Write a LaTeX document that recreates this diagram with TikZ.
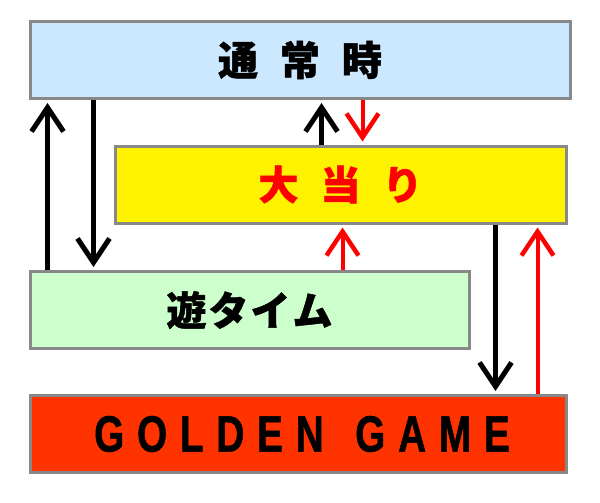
\documentclass[tikz,border=0pt]{standalone}
\usepackage{fontspec}
\usetikzlibrary{arrows.meta}
\newfontfamily\jp{Noto Sans CJK JP}[BoldFeatures={FakeBold=1.2}]
\newfontfamily\goldfont{Liberation Sans}[FakeStretch=0.76,LetterSpace=25,FakeBold=1]
\definecolor{tsblue}{HTML}{CCE8FF}
\definecolor{yugreen}{HTML}{CCFFCC}
\definecolor{ggred}{HTML}{FF3300}
\definecolor{boxgray}{HTML}{888888}
\tikzset{
  box/.style={draw=boxgray, line width=3pt, minimum height=77pt, inner sep=0pt},
  jtext/.style={font=\jp\bfseries\fontsize{40pt}{40pt}\selectfont},
  blk/.style={line width=5pt, shorten >=3pt, -{Straight Barb[length=24pt,width=32pt,line width=5pt]}},
  rd/.style={line width=4pt, red, shorten >=3pt, -{Straight Barb[length=24pt,width=32pt,line width=4.5pt]}}
}

\begin{document}
\begin{tikzpicture}[x=1pt, y=-1pt]
        \useasboundingbox (0,0) rectangle (600,503);
        \node[box, fill=tsblue, minimum width=540pt, jtext] (T) at (300,60) {通\hspace{22pt}常\hspace{22pt}時};
        \node[box, fill=yellow, minimum width=451pt, jtext, text=red] (B) at (340.5,184.5) {大\hspace{22pt}当\hspace{22pt}り};
        \node[box, fill=yugreen, minimum width=439pt, jtext] (Y) at (249.5,310) {遊\hspace{2pt}タ\hspace{2pt}イ\hspace{2pt}ム};
        \node[box, fill=ggred, minimum width=536pt, font=\goldfont\bfseries\fontsize{51pt}{51pt}\selectfont] (G) at (298,434) {\hspace{8pt}GOLDEN\hspace{8pt} GAME};

        % 通常時 <-> 遊タイム
        \draw[blk] ([xshift=19]Y.north west) -- ([xshift=19]T.south west);
        \draw[blk] ([xshift=65]T.south west) -- ([xshift=65]Y.north west);
        % 通常時 <-> 大当り
        \draw[blk] ([xshift=208]B.north west) -- ([xshift=293]T.south west);
        \draw[rd] ([xshift=334]T.south west) -- ([xshift=249]B.north west);
        % 遊タイム -> 大当り
        \draw[rd] ([xshift=314]Y.north west) -- ([xshift=229]B.south west);
        % 大当り <-> GOLDEN GAME
        \draw[blk] ([xshift=382]B.south west) -- ([xshift=467]G.north west);
        \draw[rd] ([xshift=509]G.north west) -- ([xshift=424]B.south west);
\end{tikzpicture}
\end{document}
